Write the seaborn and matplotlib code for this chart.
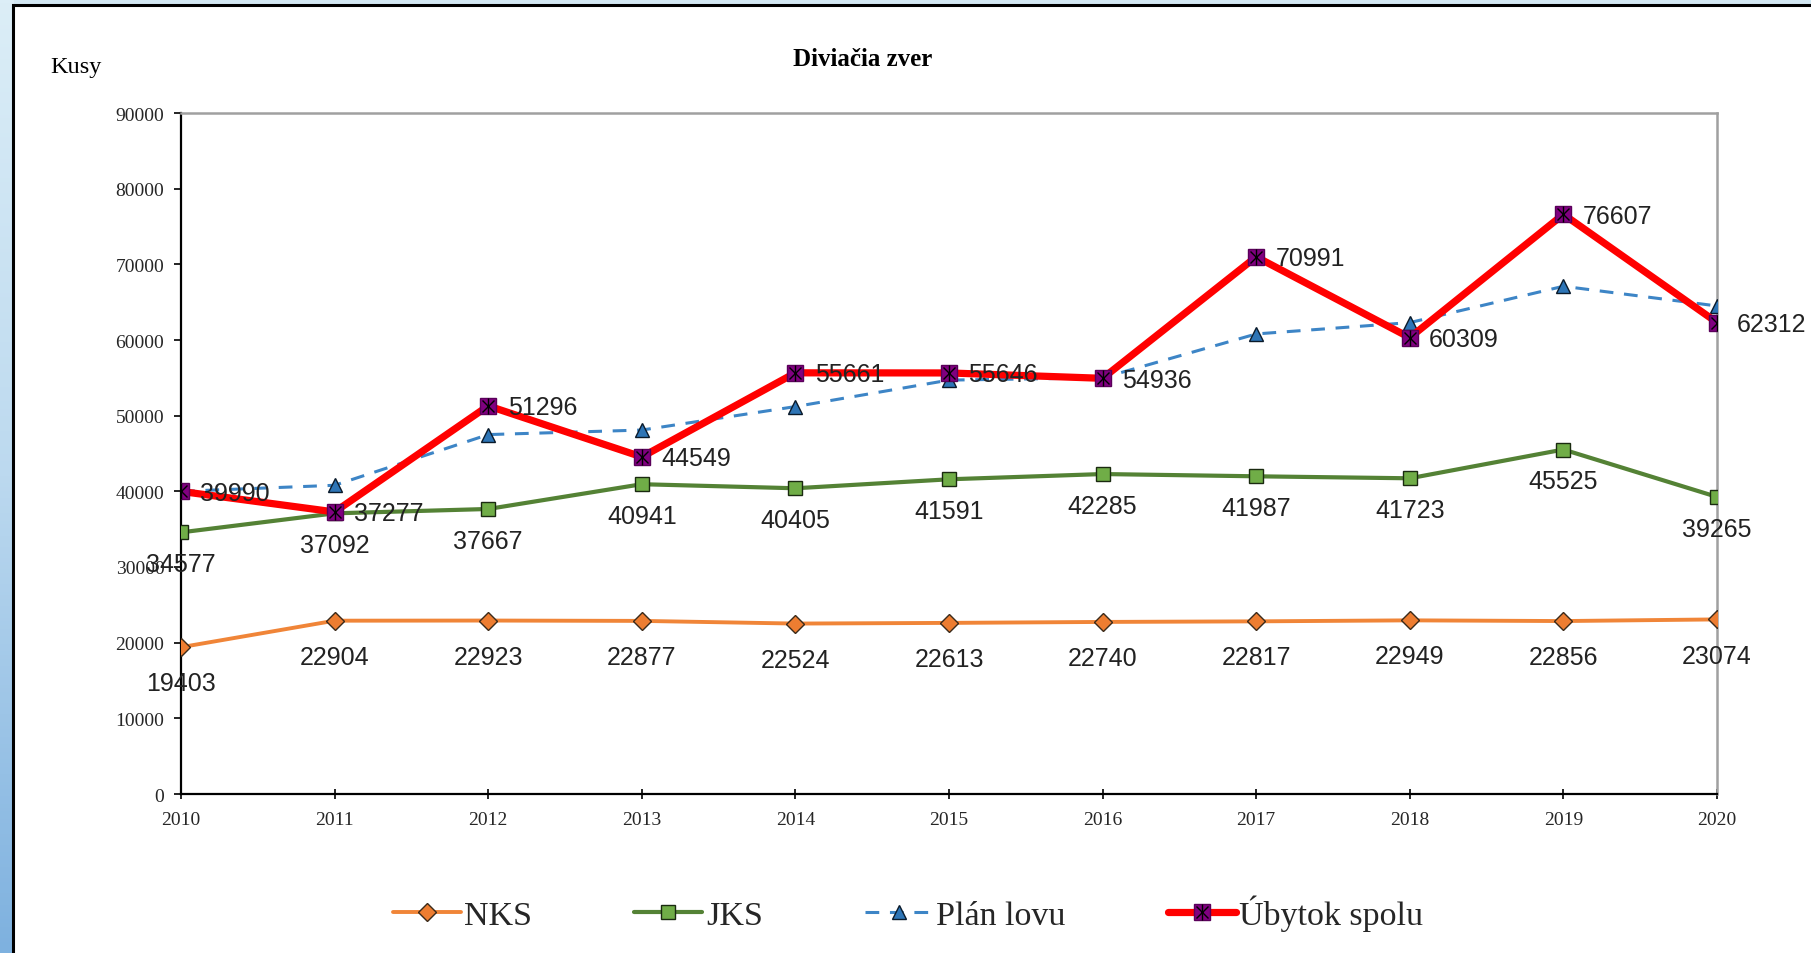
import numpy as np
import pandas as pd
import matplotlib
matplotlib.use("Agg")
import matplotlib.pyplot as plt
import seaborn as sns
from matplotlib.patches import Rectangle
from matplotlib.colors import LinearSegmentedColormap
from matplotlib.legend_handler import HandlerTuple

sns.set_style("white")

# ---------------- data ----------------
years = [2010, 2011, 2012, 2013, 2014, 2015, 2016, 2017, 2018, 2019, 2020]
nks = [19403, 22904, 22923, 22877, 22524, 22613, 22740, 22817, 22949, 22856, 23074]
jks = [34577, 37092, 37667, 40941, 40405, 41591, 42285, 41987, 41723, 45525, 39265]
plan_lovu = [40000, 40800, 47500, 48100, 51200, 54700, 55000, 60800, 62300, 67100, 64500]
ubytok = [39990, 37277, 51296, 44549, 55661, 55646, 54936, 70991, 60309, 76607, 62312]
y_ticks = [0, 10000, 20000, 30000, 40000, 50000, 60000, 70000, 80000, 90000]

df = pd.DataFrame({"rok": years, "NKS": nks, "JKS": jks,
                   "Plán lovu": plan_lovu, "Úbytok spolu": ubytok})

W, H = 1811, 954
fig = plt.figure(figsize=(W / 100, H / 100), dpi=100)
fig.patch.set_facecolor("#d3e8f3")

# screenshot frame: blue gradient strip on the left, white panel with black edge
bg = fig.add_axes([0, 0, 14 / W, 1], zorder=-10)
grad = np.linspace(0, 1, 256).reshape(-1, 1)
cmap = LinearSegmentedColormap.from_list("strip", ["#dceef7", "#bcd9ef", "#7eb1df"])
bg.imshow(grad, aspect="auto", cmap=cmap, extent=[0, 1, 1, 0])
bg.axis("off")
panel = Rectangle((13 / W, -0.02), 1.0, (H - 6) / H + 0.02, transform=fig.transFigure,
                  facecolor="white", edgecolor="black", lw=2.2, zorder=-5)
fig.add_artist(panel)

ax = fig.add_axes([181 / W, 1 - 795 / H, (1717 - 181) / W, (795 - 114) / H])
ax.set_facecolor("white")

serif = ["Liberation Serif", "DejaVu Serif"]
sans = ["Liberation Sans", "DejaVu Sans"]

# ---------------- series ----------------
sns.lineplot(data=df, x="rok", y="NKS", ax=ax, color="#f08538", lw=2.8,
             marker="D", markersize=9.5, markerfacecolor="#ed7d31",
             markeredgecolor="#3a2a1a", markeredgewidth=1.0, legend=False, zorder=3)
h_nks = ax.lines[-1]

sns.lineplot(data=df, x="rok", y="JKS", ax=ax, color="#548235", lw=3.0,
             marker="s", markersize=10, markerfacecolor="#70ad47",
             markeredgecolor="#1a2a10", markeredgewidth=1.0, legend=False, zorder=3)
h_jks = ax.lines[-1]

sns.lineplot(data=df, x="rok", y="Plán lovu", ax=ax, color="#3d85c6", lw=2.2,
             linestyle=(0, (4.5, 3.5)), marker="^", markersize=10,
             markerfacecolor="#2e75b6", markeredgecolor="#0a1a2a",
             markeredgewidth=1.0, legend=False, zorder=4)
h_plan = ax.lines[-1]

sns.lineplot(data=df, x="rok", y="Úbytok spolu", ax=ax, color="#ff0000", lw=5.2,
             marker="s", markersize=11, markerfacecolor="#800080",
             markeredgecolor="#5a005a", markeredgewidth=1.0, legend=False, zorder=5)
h_ub = ax.lines[-1]
h_x, = ax.plot(df["rok"], df["Úbytok spolu"], ls="none", marker="x", ms=9,
               mec="black", mew=1.0, zorder=6)
h_v, = ax.plot(df["rok"], df["Úbytok spolu"], ls="none", marker="|", ms=11,
               mec="black", mew=1.0, zorder=6)

# ---------------- data labels ----------------
lab = dict(fontsize=18, family=sans, color="#222222", textcoords="offset points")
for x, v in zip(years, nks):
    ax.annotate(str(v), (x, v), xytext=(0, -26), ha="center", va="center", zorder=7, **lab)
for x, v in zip(years, jks):
    ax.annotate(str(v), (x, v), xytext=(0, -23), ha="center", va="center", zorder=7, **lab)
for x, v in zip(years, ubytok):
    ax.annotate(str(v), (x, v), xytext=(14, -1), ha="left", va="center", zorder=7, **lab)

# ---------------- axes ----------------
ax.set_xlim(2010, 2020)
ax.set_ylim(0, 90000)
ax.set_xticks(years)
ax.set_yticks(y_ticks)
ax.set_xticklabels([str(y) for y in years], family=serif, fontsize=14)
ax.set_yticklabels([str(t) for t in y_ticks], family=serif, fontsize=14)
ax.tick_params(axis="x", direction="inout", length=7, width=1.2, color="black", pad=9)
ax.tick_params(axis="y", direction="out", length=5, width=1.2, color="black", pad=7,
               left=True)
ax.tick_params(axis="x", bottom=True)
ax.set_xlabel("")
ax.set_ylabel("")
for s in ["left", "bottom"]:
    ax.spines[s].set_color("black")
    ax.spines[s].set_linewidth(1.6)
for s in ["top", "right"]:
    ax.spines[s].set_color("#a0a0a0")
    ax.spines[s].set_linewidth(1.8)
ax.grid(False)

fig.text(863 / W, 1 - 59 / H, "Diviačia zver", ha="center", va="center",
         fontsize=18, fontweight="bold", family=serif, color="black")
fig.text(50 / W, 1 - 68 / H, "Kusy", ha="left", va="center",
         fontsize=17.5, family=serif, color="black")

# ---------------- legend ----------------
leg = fig.legend([h_nks, h_jks, h_plan, (h_ub, h_x, h_v)],
                 ["NKS", "JKS", "Plán lovu", "Úbytok spolu"],
                 handler_map={tuple: HandlerTuple(ndivide=1, pad=0)},
                 loc="center", bbox_to_anchor=(908 / W, 1 - 914 / H), ncol=4,
                 frameon=False, prop={"family": serif, "size": 24.5},
                 handlelength=2.0, handletextpad=0.1, columnspacing=3.0)

fig.savefig("out.png", dpi=100)
